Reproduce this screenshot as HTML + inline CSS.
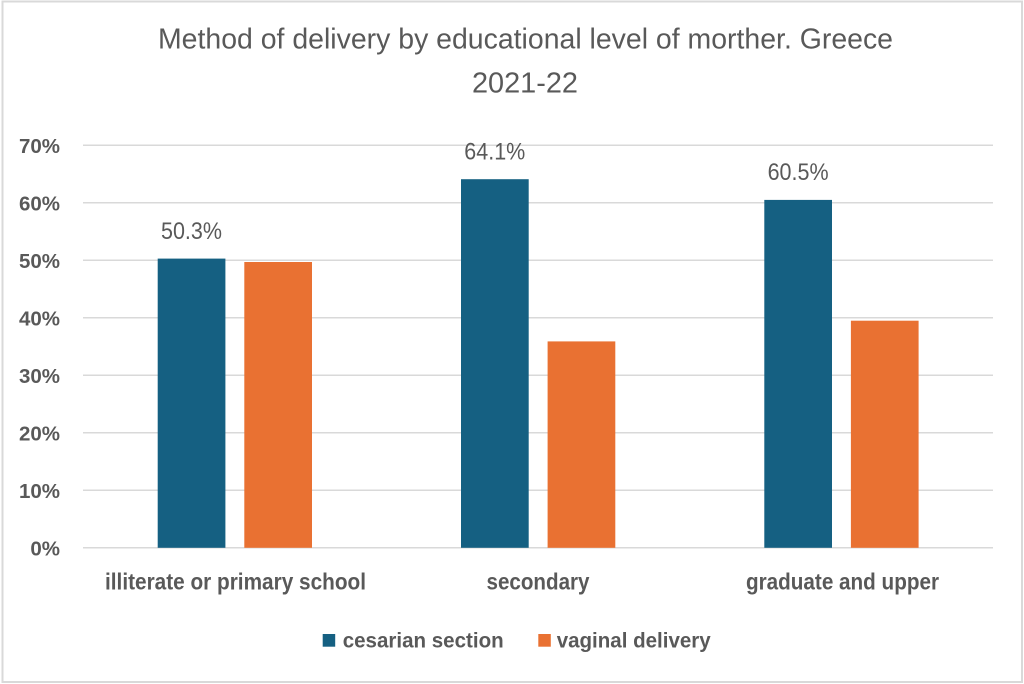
<!DOCTYPE html>
<html>
<head>
<meta charset="utf-8">
<style>
  html,body{margin:0;padding:0;background:#fff;}
  svg{display:block;}
  text{font-family:"Liberation Sans",sans-serif;fill:#595959;}
</style>
</head>
<body>
<svg width="1024" height="684" viewBox="0 0 1024 684" xmlns="http://www.w3.org/2000/svg">
  <rect x="0" y="0" width="1024" height="684" fill="#fff"/>
  <rect x="2.5" y="1.5" width="1019.5" height="680.5" fill="none" stroke="#d9d9d9" stroke-width="2"/>

  <!-- Title -->
  <text x="525.5" y="48.3" font-size="29" text-anchor="middle" textLength="735" lengthAdjust="spacingAndGlyphs">Method of delivery by educational level of morther. Greece</text>
  <text x="525" y="92.7" font-size="29" text-anchor="middle" textLength="106" lengthAdjust="spacingAndGlyphs">2021-22</text>

  <!-- Gridlines -->
  <g stroke="#d9d9d9" stroke-width="1.5">
    <line x1="83" x2="993" y1="145.3" y2="145.3"/>
    <line x1="83" x2="993" y1="202.8" y2="202.8"/>
    <line x1="83" x2="993" y1="260.3" y2="260.3"/>
    <line x1="83" x2="993" y1="317.8" y2="317.8"/>
    <line x1="83" x2="993" y1="375.3" y2="375.3"/>
    <line x1="83" x2="993" y1="432.8" y2="432.8"/>
    <line x1="83" x2="993" y1="490.3" y2="490.3"/>
    <line x1="83" x2="993" y1="547.8" y2="547.8"/>
  </g>

  <!-- Y axis labels -->
  <g font-size="20.5" font-weight="bold" text-anchor="end">
    <text x="60" y="153">70%</text>
    <text x="60" y="210.5">60%</text>
    <text x="60" y="268">50%</text>
    <text x="60" y="325.5">40%</text>
    <text x="60" y="383">30%</text>
    <text x="60" y="440.5">20%</text>
    <text x="60" y="498">10%</text>
    <text x="60" y="555.5">0%</text>
  </g>

  <!-- Bars -->
  <g fill="#156082">
    <rect x="157.7" y="258.6" width="67.7" height="289.2"/>
    <rect x="461" y="179.2" width="67.7" height="368.6"/>
    <rect x="764.3" y="199.9" width="67.7" height="347.9"/>
  </g>
  <g fill="#E97132">
    <rect x="244.3" y="262" width="67.7" height="285.8"/>
    <rect x="547.6" y="341.4" width="67.7" height="206.4"/>
    <rect x="850.9" y="320.7" width="67.7" height="227.1"/>
  </g>

  <!-- Data labels -->
  <g font-size="24" text-anchor="middle">
    <text x="191.5" y="239" textLength="61" lengthAdjust="spacingAndGlyphs">50.3%</text>
    <text x="494.8" y="159.6" textLength="61" lengthAdjust="spacingAndGlyphs">64.1%</text>
    <text x="798.1" y="180" textLength="61" lengthAdjust="spacingAndGlyphs">60.5%</text>
  </g>

  <!-- Category labels -->
  <g font-size="23" font-weight="bold" text-anchor="middle">
    <text x="235.5" y="589.3" textLength="261" lengthAdjust="spacingAndGlyphs">illiterate or primary school</text>
    <text x="538" y="589.3" textLength="103" lengthAdjust="spacingAndGlyphs">secondary</text>
    <text x="842.5" y="589.3" textLength="193" lengthAdjust="spacingAndGlyphs">graduate and upper</text>
  </g>

  <!-- Legend -->
  <rect x="322.7" y="634" width="12.5" height="12.7" fill="#156082"/>
  <text x="342.7" y="647.3" font-size="21.5" font-weight="bold" textLength="161" lengthAdjust="spacingAndGlyphs">cesarian section</text>
  <rect x="538.3" y="634" width="12.5" height="12.7" fill="#E97132"/>
  <text x="556.7" y="647.3" font-size="21.5" font-weight="bold" textLength="154" lengthAdjust="spacingAndGlyphs">vaginal delivery</text>
</svg>
</body>
</html>
